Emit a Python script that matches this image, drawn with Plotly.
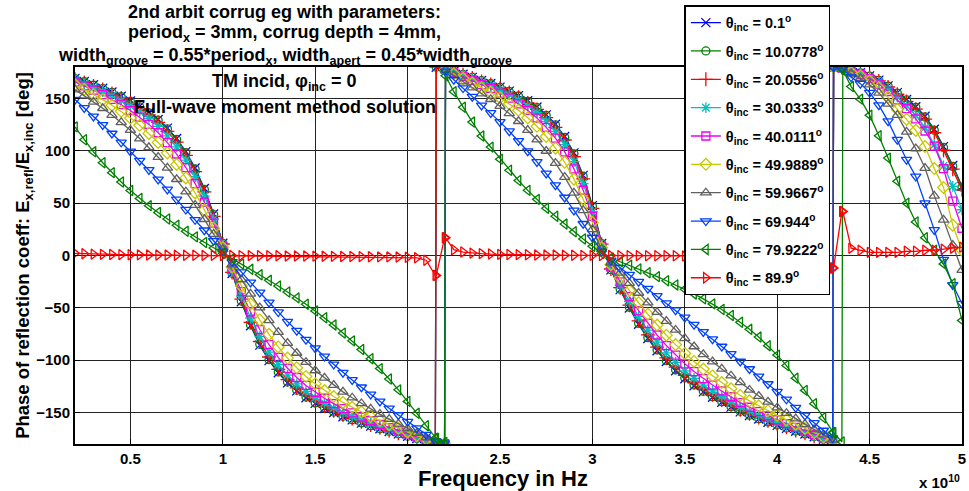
import plotly.graph_objects as go

# Frequency samples, in units of 1e10 Hz (paired samples bracket the phase wraps)
freq = [0.20, 0.25, 0.30, 0.35, 0.40, 0.45, 0.50, 0.55, 0.60, 0.65, 0.70, 0.75, 0.80, 0.85, 0.90, 0.95, 1.00,
        1.05, 1.10, 1.15, 1.20, 1.25, 1.30, 1.35, 1.40, 1.45, 1.50, 1.55, 1.60, 1.65, 1.70, 1.75, 1.80, 1.85,
        1.90, 1.95, 2.00, 2.05, 2.10, 2.15, 2.155,
        2.20, 2.205, 2.25, 2.30, 2.35, 2.40, 2.45, 2.50, 2.55, 2.60, 2.65, 2.70, 2.75, 2.80, 2.85, 2.90, 2.95, 3.00,
        3.05, 3.10, 3.15, 3.20, 3.25, 3.30, 3.35, 3.40, 3.45, 3.50, 3.55, 3.60, 3.65, 3.70, 3.75, 3.80, 3.85,
        3.90, 3.95, 4.00, 4.05, 4.10, 4.15, 4.20, 4.25, 4.30, 4.305,
        4.35, 4.355, 4.40, 4.45, 4.50, 4.55, 4.60, 4.65, 4.70, 4.75, 4.80, 4.85, 4.90, 4.95, 5.00]

# Reflection phase [deg] for each incidence angle
ph_0p1 = [169.1, 166.1, 163.0, 159.7, 156.1, 152.0, 147.6, 142.5, 136.7, 129.9, 121.6, 111.7, 99.2, 83.5, 63.9, 39.7, 11.7,
          -17.2, -44.1, -67.1, -85.6, -100.4, -112.0, -121.6, -129.3, -135.8, -141.2, -145.9, -150.0, -153.9, -157.0, -160.1, -162.9, -165.5, -168.0, -170.3, -172.6, -174.8, -176.9, -179.0, 179.8,
          178.5, 178.4, 175.8, 173.0, 170.1, 167.1, 164.3, 160.8, 157.0, 152.7, 147.7, 141.8, 134.3, 125.4, 113.6, 98.0, 76.5, 47.6,
          11.5, -13.7, -32.6, -50.1, -65.7, -79.3, -91.0, -101.2, -110.0, -117.7, -124.3, -130.2, -135.4, -140.2, -144.8, -149.3, -152.8, -156.1, -159.3, -162.2, -165.1, -167.8, -170.4, -173.0, -175.5, -178.1, 179.9,
          179.5, 179.3, 176.7, 174.5, 171.5, 167.5, 162.0, 155.5, 149.0, 142.0, 133.0, 120.5, 104.0, 86.0, 66.0]

ph_10p0778 = [168.9, 165.9, 162.7, 159.4, 155.7, 151.6, 147.1, 142.0, 136.1, 129.2, 120.9, 110.8, 98.3, 82.6, 63.1, 39.1, 11.5,
              -17.0, -43.5, -66.3, -84.8, -99.5, -111.2, -120.8, -128.6, -135.2, -140.7, -145.4, -149.5, -153.5, -156.7, -159.8, -162.6, -165.3, -167.8, -170.2, -172.5, -174.7, -176.9, -179.0, 179.8,
              178.5, 178.4, 175.8, 172.9, 170.0, 166.9, 164.0, 160.5, 156.6, 152.3, 147.2, 141.2, 133.7, 124.7, 112.8, 97.1, 75.7, 46.9,
              11.3, -13.5, -32.1, -49.4, -64.8, -78.4, -90.1, -100.4, -109.2, -116.9, -123.6, -129.6, -134.8, -139.6, -144.3, -148.8, -152.4, -155.8, -158.9, -161.9, -164.8, -167.6, -170.3, -172.9, -175.5, -178.0, 179.9,
              179.5, 179.3, 176.7, 174.4, 171.3, 167.3, 161.8, 155.1, 148.6, 141.5, 132.3, 119.7, 103.2, 85.1, 65.2]

ph_20p0556 = [168.4, 165.3, 161.9, 158.4, 154.6, 150.3, 145.6, 140.3, 134.2, 127.1, 118.5, 108.3, 95.7, 80.0, 60.7, 37.4, 11.0,
              -16.2, -41.7, -63.8, -82.1, -96.9, -108.7, -118.5, -126.5, -133.3, -138.9, -143.8, -148.2, -152.3, -155.6, -158.8, -161.8, -164.6, -167.2, -169.7, -172.1, -174.4, -176.7, -179.0, 179.8,
              178.5, 178.3, 175.5, 172.6, 169.5, 166.2, 163.3, 159.6, 155.6, 151.0, 145.7, 139.5, 131.7, 122.4, 110.3, 94.4, 73.1, 45.0,
              10.8, -12.9, -30.7, -47.4, -62.4, -75.8, -87.5, -97.7, -106.6, -114.4, -121.3, -127.5, -132.9, -137.9, -142.6, -147.4, -151.1, -154.6, -157.9, -161.1, -164.1, -167.0, -169.8, -172.6, -175.3, -177.9, 179.9,
              179.5, 179.3, 176.5, 174.1, 171.0, 166.7, 160.9, 154.0, 147.1, 139.7, 130.3, 117.4, 100.5, 82.4, 62.8]

ph_30p0333 = [167.4, 164.0, 160.4, 156.6, 152.5, 147.9, 142.9, 137.2, 130.8, 123.3, 114.3, 103.8, 91.0, 75.4, 56.7, 34.7, 10.2,
              -14.9, -38.7, -59.7, -77.5, -92.2, -104.2, -114.3, -122.6, -129.8, -135.7, -141.0, -145.6, -150.0, -153.6, -157.1, -160.3, -163.3, -166.1, -168.8, -171.4, -174.0, -176.4, -178.9, -179.0,
              -179.8, 178.3, 175.2, 172.0, 168.6, 165.1, 161.9, 157.9, 153.5, 148.7, 143.0, 136.4, 128.1, 118.4, 105.9, 89.7, 68.7, 41.8,
              9.9, -11.9, -28.4, -44.0, -58.4, -71.3, -82.8, -93.0, -102.1, -110.1, -117.3, -123.7, -129.3, -134.6, -139.6, -144.8, -148.8, -152.6, -156.1, -159.5, -162.8, -165.9, -168.9, -171.9, -174.9, -177.8, 179.9,
              179.4, 179.2, 176.2, 173.7, 170.2, 165.6, 159.3, 151.3, 143.2, 133.9, 122.2, 105.6, 85.5, 66.0, 43.7]

ph_40p0111 = [165.8, 162.0, 157.9, 153.6, 149.0, 144.0, 138.4, 132.2, 125.2, 117.2, 107.8, 96.9, 84.0, 68.7, 51.0, 30.9, 9.0,
              -13.2, -34.5, -53.9, -70.7, -85.2, -97.3, -107.7, -116.5, -124.1, -130.6, -136.3, -141.4, -146.3, -150.3, -154.2, -157.8, -161.2, -164.3, -167.4, -170.3, -173.2, -176.0, -178.7, -178.8,
              -179.7, 178.1, 174.5, 170.9, 167.1, 163.1, 159.6, 155.1, 150.2, 144.8, 138.5, 131.3, 122.4, 112.1, 99.0, 82.7, 62.3, 37.3,
              8.8, -10.5, -25.2, -39.3, -52.6, -64.8, -75.9, -86.0, -95.1, -103.4, -110.8, -117.6, -123.7, -129.4, -134.9, -140.5, -144.9, -149.1, -153.1, -156.9, -160.6, -164.1, -167.5, -170.9, -174.2, -177.5, 179.9,
              179.3, 179.1, 175.7, 172.8, 168.9, 163.7, 156.6, 148.6, 140.2, 130.5, 118.9, 104.5, 83.0, 52.0, 26.0]

ph_49p9889 = [163.1, 158.6, 153.8, 148.8, 143.5, 137.7, 131.3, 124.3, 116.6, 108.0, 98.0, 86.9, 74.1, 59.7, 43.7, 26.1, 7.6,
              -11.1, -29.2, -46.2, -61.6, -75.3, -87.3, -98.0, -107.2, -115.5, -122.6, -129.0, -134.7, -140.3, -145.0, -149.4, -153.7, -157.6, -161.4, -165.0, -168.5, -171.9, -175.2, -178.5, -178.6,
              -179.6, 177.7, 173.5, 169.2, 164.7, 160.0, 155.8, 150.6, 144.9, 138.6, 131.5, 123.4, 113.6, 102.5, 89.0, 72.9, 53.8, 31.6,
              7.4, -8.8, -21.3, -33.4, -45.1, -56.1, -66.4, -76.1, -85.1, -93.5, -101.2, -108.4, -115.0, -121.3, -127.3, -133.7, -138.8, -143.6, -148.2, -152.6, -157.0, -161.1, -165.2, -169.1, -173.1, -177.0, 179.8,
              179.2, 179.0, 174.9, 171.5, 166.8, 160.1, 151.0, 139.5, 130.0, 119.5, 104.0, 83.0, 65.0, 29.0, 5.0]

ph_59p9667 = [158.4, 152.7, 146.7, 140.6, 134.1, 127.1, 119.7, 111.7, 103.2, 93.9, 83.7, 72.8, 60.9, 48.1, 34.6, 20.5, 5.9,
              -8.7, -22.9, -36.7, -49.8, -62.0, -73.2, -83.7, -93.1, -101.9, -109.8, -116.9, -123.7, -130.2, -135.8, -141.3, -146.5, -151.5, -156.2, -160.8, -165.2, -169.6, -173.8, -178.1, -178.3,
              -179.5, 177.1, 171.7, 166.1, 160.4, 154.5, 149.2, 142.7, 135.7, 128.2, 119.8, 110.6, 99.8, 88.2, 74.8, 59.8, 43.1, 24.9,
              5.8, -6.9, -16.6, -26.3, -35.8, -45.0, -54.0, -62.7, -71.1, -79.2, -86.9, -94.4, -101.4, -108.3, -114.8, -121.2, -128.4, -134.2, -139.8, -145.3, -150.6, -155.8, -161.0, -166.1, -171.1, -176.1, 179.8,
              179.0, 178.8, 173.4, 169.0, 163.1, 155.3, 144.8, 134.0, 118.0, 102.0, 83.5, 57.0, 34.0, 10.0, -14.0]

ph_69p944 = [148.9, 141.0, 132.9, 124.8, 116.5, 108.1, 99.4, 90.6, 81.7, 72.6, 63.1, 53.6, 43.9, 34.1, 24.1, 14.1, 4.0,
             -6.0, -15.8, -25.6, -35.3, -44.8, -54.0, -63.1, -71.8, -80.4, -88.5, -96.4, -104.0, -111.9, -118.8, -125.8, -132.7, -139.3, -145.9, -152.3, -158.6, -164.8, -171.0, -177.2, -177.4,
             -179.2, 175.8, 167.9, 159.9, 151.7, 143.4, 136.2, 127.6, 118.7, 109.4, 99.6, 89.4, 78.4, 67.2, 55.4, 43.0, 30.3, 17.2,
             3.9, -4.7, -11.5, -18.2, -25.0, -31.7, -38.5, -45.4, -52.2, -59.1, -66.0, -73.0, -79.9, -86.9, -94.0, -101.2, -108.4, -115.5, -122.7, -130.0, -137.3, -145.3, -152.6, -159.8, -167.1, -174.3, 179.7,
             178.5, 178.2, 170.4, 164.1, 155.6, 143.6, 128.3, 110.6, 91.5, 75.5, 50.0, 24.5, -4.0, -28.0, -46.0]

ph_79p9222 = [122.8, 110.5, 99.0, 88.6, 79.1, 70.2, 62.1, 54.5, 47.6, 41.1, 34.8, 28.9, 23.2, 17.8, 12.4, 7.2, 2.1,
              -3.0, -8.1, -13.2, -18.4, -23.7, -29.1, -34.8, -40.5, -46.6, -52.9, -59.4, -66.3, -74.1, -81.5, -89.8, -98.6, -108.0, -117.9, -128.3, -139.3, -150.7, -162.5, -174.4, -174.8,
              -178.5, 171.7, 156.4, 141.6, 127.4, 114.1, 103.5, 92.0, 81.4, 71.6, 62.2, 53.6, 45.1, 37.5, 30.0, 22.7, 15.7, 8.8,
              2.0, -2.4, -5.9, -9.3, -12.9, -16.5, -20.2, -24.1, -28.1, -32.3, -36.7, -41.4, -46.2, -51.6, -57.3, -63.7, -70.5, -77.9, -86.1, -95.1, -105.1, -117.1, -128.8, -141.5, -154.9, -168.9, -169.3,
              -178.0, 177.1, 161.3, 149.3, 134.0, 114.4, 93.0, 71.0, 50.0, 32.0, 17.0, 5.0, -8.0, -27.0, -62.0]

ph_89p9 = [2.1, 1.7, 1.3, 1.1, 0.9, 0.8, 0.7, 0.6, 0.5, 0.4, 0.4, 0.3, 0.2, 0.2, 0.1, 0.1, 0.0,
           0.0, -0.1, -0.1, -0.2, -0.2, -0.3, -0.4, -0.4, -0.5, -0.6, -0.7, -0.8, -0.9, -1.0, -1.1, -1.2, -1.3, -1.3, -1.5, -1.7, -2.2, -4.5, -19.0, -19.0,
           17.0, 17.0, 5.5, 3.3, 2.3, 1.8, 1.4, 1.1, 0.9, 0.8, 0.7, 0.5, 0.4, 0.4, 0.3, 0.2, 0.1, 0.1,
           0.0, 0.0, -0.1, -0.1, -0.1, -0.2, -0.2, -0.3, -0.3, -0.4, -0.4, -0.5, -0.5, -0.6, -0.7, -0.7, -0.8, -1.0, -1.1, -1.3, -1.5, -1.9, -2.4, -3.3, -5.0, -12.0, -12.0,
           42.0, 42.0, 7.0, 5.0, 3.0, 3.0, 3.0, 3.0, 4.0, 4.0, 5.0, 5.0, 6.0, 7.0, 8.0]

angle_labels = ["0.1", "10.0778", "20.0556", "30.0333", "40.0111",
                "49.9889", "59.9667", "69.944", "79.9222", "89.9"]
series = [ph_0p1, ph_10p0778, ph_20p0556, ph_30p0333, ph_40p0111,
          ph_49p9889, ph_59p9667, ph_69p944, ph_79p9222, ph_89p9]

colors = ["#0000FF", "#008000", "#FF0000", "#00BFBF", "#F000F0",
          "#C8C800", "#606060", "#0040FF", "#008000", "#FF0000"]
symbols = ["x-thin-open", "circle-open", "cross-thin-open", "asterisk-open", "square-open",
           "diamond-open", "triangle-up-open", "triangle-down-open", "triangle-left-open", "triangle-right-open"]
sizes = [9, 8, 10, 9, 8, 9, 9, 9, 9, 9]

assert all(len(s) == len(freq) for s in series)

FONT = "Liberation Sans, Arial, sans-serif"

fig = go.Figure()
for i, (lab, ys, col, sym, sz) in enumerate(zip(angle_labels, series, colors, symbols, sizes)):
    fig.add_trace(go.Scatter(
        x=freq, y=ys, mode="lines+markers",
        name=f"θ<sub>inc</sub> = {lab}<sup>o</sup>",
        legendgroup=f"g{i}",
        line=dict(color=col, width=1.3),
        marker=dict(symbol=sym, size=sz, color=col, line=dict(color=col, width=1.3)),
    ))

axis_font = dict(family=FONT, size=15, color="black", weight="bold")
fig.update_xaxes(
    range=[0.2, 5.0], tick0=0.5, dtick=0.5,
    showgrid=True, gridcolor="#222222", gridwidth=1.2,
    showline=True, linecolor="black", linewidth=2, mirror=True,
    ticks="inside", ticklen=5, tickcolor="black",
    zeroline=False, tickfont=axis_font,
)
fig.update_yaxes(
    range=[-180, 180], tickvals=[-150, -100, -50, 0, 50, 100, 150],
    showgrid=True, gridcolor="#222222", gridwidth=1.2,
    showline=True, linecolor="black", linewidth=2, mirror=True,
    ticks="inside", ticklen=5, tickcolor="black",
    zeroline=False, tickfont=axis_font,
    title=dict(text="Phase of reflection coeff: E<sub>x,refl</sub>/E<sub>x,inc</sub> [deg]",
               font=dict(family=FONT, size=18.5, color="black", weight="bold"), standoff=2),
)

# x-axis label
fig.add_annotation(text="Frequency in Hz", x=(505 - 75) / 891, y=-0.092, xref="paper", yref="paper",
                   xanchor="center", yanchor="middle", showarrow=False,
                   font=dict(family=FONT, size=22, color="black", weight="bold"))

title_font = dict(family=FONT, size=18, color="black", weight="bold")
title_lines = [
    ("2nd arbit corrug eg with parameters:", 1.146),
    ("period<sub>x</sub> = 3mm, corrug depth = 4mm,", 1.088),
    ("width<sub>groove</sub> = 0.55*period<sub>x</sub>, width<sub>apert</sub> = 0.45*width<sub>groove</sub>", 1.027),
    ("TM incid, φ<sub>inc</sub> = 0", 0.958),
    ("Full-wave moment method solution", 0.894),
]
for txt, yy in title_lines:
    fig.add_annotation(text=txt, x=0.2366, y=yy, xref="paper", yref="paper",
                       xanchor="center", yanchor="middle", showarrow=False, font=title_font)

fig.add_annotation(text="x 10<sup>10</sup>", x=0.975, y=-0.1, xref="paper", yref="paper",
                   xanchor="center", yanchor="middle", showarrow=False,
                   font=dict(family=FONT, size=15, color="black", weight="bold"))

fig.update_layout(
    width=969, height=491,
    margin=dict(l=75, r=3, t=67, b=47),
    paper_bgcolor="white", plot_bgcolor="white",
    font=dict(family=FONT, color="black"),
    showlegend=True,
    legend=dict(x=0.687, y=1.164, xanchor="left", yanchor="top",
                bgcolor="white", bordercolor="black", borderwidth=1.5,
                tracegroupgap=6.5, maxheight=330,
                font=dict(family=FONT, size=14.5, color="black", weight="bold")),
)

fig.write_html("out.html")
